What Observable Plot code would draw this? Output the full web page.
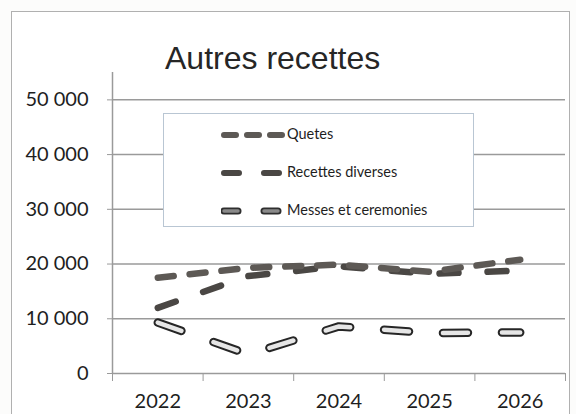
<!DOCTYPE html>
<html><head><meta charset="utf-8">
<script src="https://cdn.jsdelivr.net/npm/d3@7"></script>
<script src="https://cdn.jsdelivr.net/npm/@observablehq/plot@0.6"></script>
<style>
body{margin:0;background:#fff;}
#wrap{position:relative;width:576px;height:414px;overflow:hidden;background:#fcfcfb;}
#frame{position:absolute;left:11px;top:11px;width:557px;height:430px;border:1.5px solid #b0b0b0;background:#fff;}
#chart{position:absolute;left:0;top:0;}
#title{position:absolute;left:165px;top:42px;font-size:32px;line-height:1;font-family:"Liberation Sans",Arial,sans-serif;color:#262626;white-space:nowrap;}
#legend{position:absolute;left:163px;top:113px;width:309px;height:112px;border:1.5px solid #b9c6d3;background:#fff;}
.row{position:absolute;left:0;height:16px;}
.row svg{position:absolute;left:57px;top:0;}
.row span{position:absolute;left:123px;top:-1px;font:14.5px Lato,sans-serif;color:#1e1e1e;white-space:nowrap;line-height:16px;}
</style></head>
<body>
<div id="wrap">
  <div id="frame"></div>
  <div id="chart"></div>
  <div id="title">Autres recettes</div>
  <div id="legend"></div>
</div>
<script>
const years = [2022, 2023, 2024, 2025, 2026];
const quetes = [17500, 19300, 19900, 18600, 20800];
const recettes = [12000, 17800, 19600, 18200, 18800];
const messes = [9300, 3500, 8600, 7400, 7500];
const yTicks = [0, 10000, 20000, 30000, 40000, 50000];
const seriesNames = ["Quetes", "Recettes diverses", "Messes et ceremonies"];

const rows = years.map((y, i) => ({year: y, quetes: quetes[i], recettes: recettes[i], messes: messes[i]}));
const bounds = years.map(y => y - 0.5).concat([years[years.length - 1] + 0.5]);
const fmt = d => d3.format(",")(d).replace(/,/g, " ");

const plot = Plot.plot({
  width: 576, height: 414,
  marginTop: 72, marginBottom: 41, marginLeft: 112, marginRight: 11,
  style: {background: "transparent", fontFamily: "Lato, sans-serif", color: "#1e1e1e"},
  x: {domain: [bounds[0], bounds[bounds.length - 1]], label: null},
  y: {domain: [0, 55000], label: null},
  marks: [
    Plot.ruleY(yTicks, {stroke: "#9a9a9a", strokeWidth: 1.5}),
    Plot.ruleX([bounds[0]], {stroke: "#9a9a9a", strokeWidth: 1.5}),
    Plot.axisY({ticks: yTicks, tickSize: 5, tickPadding: 19, tickFormat: fmt, fontSize: 20, stroke: "#9a9a9a", fill: "#1e1e1e", label: null}),
    Plot.axisX({ticks: bounds, tickSize: 8, tickFormat: () => "", stroke: "#9a9a9a", label: null}),
    Plot.axisX({ticks: years, tickSize: 0, tickPadding: 20, tickFormat: d => String(d), fontSize: 20, fill: "#1e1e1e", label: null}),
    Plot.line(rows, {x: "year", y: "messes", stroke: "#262626", strokeWidth: 8.5, strokeDasharray: "25,34", strokeLinecap: "round"}),
    Plot.line(rows, {x: "year", y: "messes", stroke: "#e6e6e6", strokeWidth: 4.5, strokeDasharray: "25,34", strokeLinecap: "round"}),
    Plot.line(rows, {x: "year", y: "recettes", stroke: "#4a4744", strokeWidth: 6.5, strokeDasharray: "19,29", strokeLinecap: "round"}),
    Plot.line(rows, {x: "year", y: "quetes", stroke: "#5d5955", strokeWidth: 6.5, strokeDasharray: "16,16", strokeLinecap: "round"})
  ]
});
document.getElementById("chart").appendChild(plot);

// legend
const legend = d3.select("#legend");
const styles = [
  [{stroke: "#5d5955", w: 6, dash: "12,11"}],
  [{stroke: "#4a4744", w: 6, dash: "15,25"}],
  [{stroke: "#2e2e2e", w: 7, dash: "14,26"}, {stroke: "#8a8a8a", w: 3.5, dash: "14,26"}]
];
const rowTops = [13, 51, 89];
seriesNames.forEach((name, i) => {
  const r = legend.append("div").attr("class", "row").style("top", rowTops[i] + "px");
  const s = r.append("svg").attr("width", 66).attr("height", 16);
  styles[i].forEach(st => {
    s.append("line").attr("x1", 3).attr("x2", 64).attr("y1", 8).attr("y2", 8)
      .attr("stroke", st.stroke).attr("stroke-width", st.w)
      .attr("stroke-dasharray", st.dash).attr("stroke-linecap", "round");
  });
  r.append("span").text(name);
});
</script>
</body></html>
